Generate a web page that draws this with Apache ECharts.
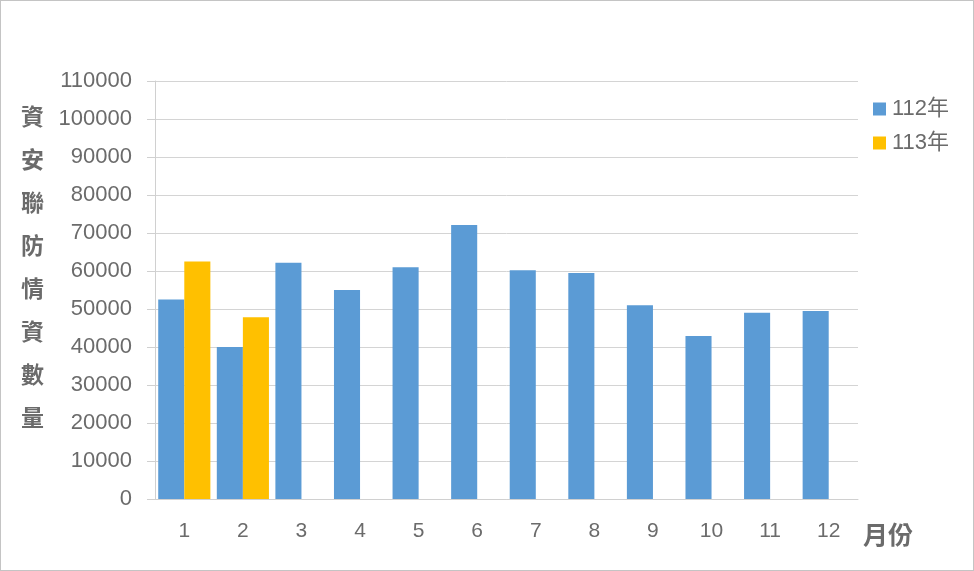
<!DOCTYPE html>
<html>
<head>
<meta charset="utf-8">
<script src="https://cdn.jsdelivr.net/npm/echarts@6/dist/echarts.min.js"></script>
<style>
html,body{margin:0;padding:0;background:#fff;}
#c{width:974px;height:571px;box-sizing:border-box;border:1px solid #c4c4c4;}
</style>
</head>
<body>
<div id="c"></div>
<script>
const months = ['1','2','3','4','5','6','7','8','9','10','11','12'];
const seriesNames = ['112年','113年'];
const values112 = [52500, 40000, 62200, 55000, 61000, 72100, 60200, 59500, 51000, 42900, 49000, 49500];
const values113 = [62500, 47800, null, null, null, null, null, null, null, null, null, null];
const yAxisTitle = '資安聯防情資數量';
const xAxisTitle = '月份';

const txt = '#6b6b6b';
const fontCJK = '"Liberation Sans", "Noto Sans CJK TC", sans-serif';
const chart = echarts.init(document.getElementById('c'), null, {renderer:'canvas'});
chart.setOption({
  animation:false,
  backgroundColor:'#fff',
  color:['#5b9bd5','#ffc000'],
  grid:{left:154,right:115,top:80,bottom:71,containLabel:false},
  legend:{
    orient:'vertical', left:867, top:92,
    itemWidth:13, itemHeight:13, itemGap:12,
    icon:'rect',
    textStyle:{color:txt,fontSize:22,fontFamily:fontCJK,padding:[0,0,0,1]},
    data:seriesNames
  },
  xAxis:{
    type:'category', data:months,
    axisLine:{show:true,lineStyle:{color:'#d0d0d0',width:1}},
    axisTick:{show:false},
    axisLabel:{color:txt,fontSize:21,margin:22,fontFamily:fontCJK}
  },
  yAxis:{
    type:'value', min:0, max:110000, interval:10000,
    axisLine:{show:true,lineStyle:{color:'#d0d0d0'}},
    axisTick:{show:true,length:8,lineStyle:{color:'#d0d0d0'}},
    splitLine:{lineStyle:{color:'#d4d4d4',width:1}},
    axisLabel:{color:txt,fontSize:22,margin:23,fontFamily:fontCJK,
               formatter:function(v){return String(v);}}
  },
  graphic:[
    {type:'text', left:20, top:94,
     style:{text:yAxisTitle.split('').join('\n'), fontSize:23, fontWeight:'bold', lineHeight:43,
            fill:txt, fontFamily:'"Noto Sans CJK TC", sans-serif', align:'left'}},
    {type:'text', left:862, top:521,
     style:{text:xAxisTitle, fontSize:25, fontWeight:'bold', fill:txt,
            fontFamily:'"Noto Sans CJK TC", sans-serif'}}
  ],
  series:[
    {name:seriesNames[0], type:'bar', data:values112, barGap:'0%', barCategoryGap:'11%'},
    {name:seriesNames[1], type:'bar', data:values113, barGap:'0%', barCategoryGap:'11%'}
  ]
});
</script>
</body>
</html>
